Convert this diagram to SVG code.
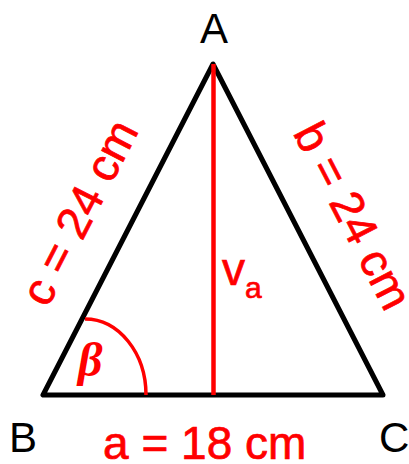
<svg xmlns="http://www.w3.org/2000/svg" width="409" height="464" viewBox="0 0 409 464">
  <style>
    .lbl { font-family: "Liberation Sans", Arial, sans-serif; font-size: 42px; fill: #000; }
    .red { font-family: "Liberation Sans", Arial, sans-serif; font-size: 46px; fill: #ff0000; stroke: #ff0000; stroke-width: 0.7px; }
    .beta { font-family: "Liberation Serif", "Times New Roman", serif; font-size: 48px; font-weight: bold; font-style: italic; fill: #ff0000; }
  </style>
  <rect width="409" height="464" fill="#ffffff"/>
  <g id="triangle">
    <polygon points="213,64 43,395 383,395" fill="none" stroke="#000" stroke-width="5" stroke-linejoin="round"/>
  </g>
  <g id="angle-beta">
    <path d="M85,319 A61,76 0 0 1 146,395" fill="none" stroke="#ff0000" stroke-width="3.5"/>
    <text class="beta" x="78" y="376">β</text>
  </g>
  <g id="height">
    <line x1="213.5" y1="64" x2="213.5" y2="395" stroke="#ff0000" stroke-width="4.5"/>
    <text class="red" x="222" y="285" font-size="43">v<tspan font-size="30" dy="13">a</tspan></text>
  </g>
  <g id="labels">
    <text class="lbl" x="214" y="43" text-anchor="middle">A</text>
    <text class="lbl" x="9" y="452">B</text>
    <text class="lbl" x="379" y="452">C</text>
  </g>
  <g id="sides">
    <text class="red" x="204.7" y="459" text-anchor="middle">a = 18 cm</text>
    <text class="red" text-anchor="middle" transform="translate(93.4,219.5) rotate(-62.7)">c = 24 cm</text>
    <text class="red" text-anchor="middle" font-size="45" transform="translate(339,223) rotate(62.7)">b = 24 cm</text>
  </g>
</svg>
